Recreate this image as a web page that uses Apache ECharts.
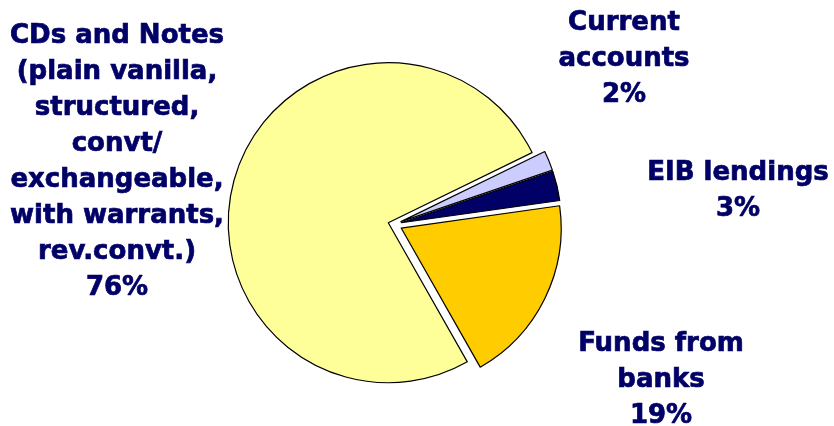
<!DOCTYPE html>
<html>
<head>
<meta charset="utf-8">
<script src="https://cdn.jsdelivr.net/npm/echarts@6/dist/echarts.min.js"></script>
<style>
  html, body { margin: 0; padding: 0; background: #ffffff; }
  #chart { width: 834px; height: 426px; }
</style>
</head>
<body>
<div id="chart"></div>
<script>
// Funding sources, share of total (%)
const categories = ['Current accounts', 'EIB lendings', 'Funds from banks', 'CDs and Notes'];
const labelLines = [
  ['Current', 'accounts'],
  ['EIB lendings'],
  ['Funds from', 'banks'],
  ['CDs and Notes', '(plain vanilla,', 'structured,', 'convt/', 'exchangeable,', 'with warrants,', 'rev.convt.)']
];
const values = [2, 3, 19, 76];

// Styling
const sliceColors = ['#CCCCFF', '#000066', '#FFCC00', '#FFFF99'];
const explode = [7.5, 7.5, 8, 6];
const labelPos = [[624, 59], [738, 191], [661, 380], [117, 162]];
const textColor = '#000066';
const labelFont = 'bold 26px "DejaVu Sans", Verdana, sans-serif';

const chart = echarts.init(document.getElementById('chart'), null, { renderer: 'canvas' });

// One pie per slice so each wedge can be pulled out by its own distance;
// every pie shares the same center, radius and start angle.
const series = categories.map(function (_, k) {
  return {
    type: 'pie',
    center: [394, 224.5],
    radius: [0, 160],
    startAngle: 26,
    clockwise: true,
    avoidLabelOverlap: false,
    selectedMode: 'multiple',
    selectedOffset: explode[k],
    silent: true,
    animation: false,
    label: { show: false },
    labelLine: { show: false },
    data: categories.map(function (name, i) {
      const visible = i === k;
      const style = visible
        ? { color: sliceColors[i], borderColor: '#000000', borderWidth: 1.2 }
        : { color: 'rgba(0,0,0,0)', borderWidth: 0 };
      return {
        name: name,
        value: values[i],
        selected: visible,
        itemStyle: style,
        select: { itemStyle: style }
      };
    })
  };
});

// Category labels with their percentage
const labels = categories.map(function (name, i) {
  return {
    type: 'text',
    x: labelPos[i][0],
    y: labelPos[i][1],
    silent: true,
    style: {
      text: labelLines[i].join('\n') + '\n' + values[i] + '%',
      font: labelFont,
      fill: textColor,
      stroke: textColor,
      lineWidth: 0.7,
      align: 'center',
      verticalAlign: 'middle',
      lineHeight: 36
    }
  };
});

chart.setOption({
  backgroundColor: '#ffffff',
  series: series,
  graphic: labels
});
</script>
</body>
</html>
